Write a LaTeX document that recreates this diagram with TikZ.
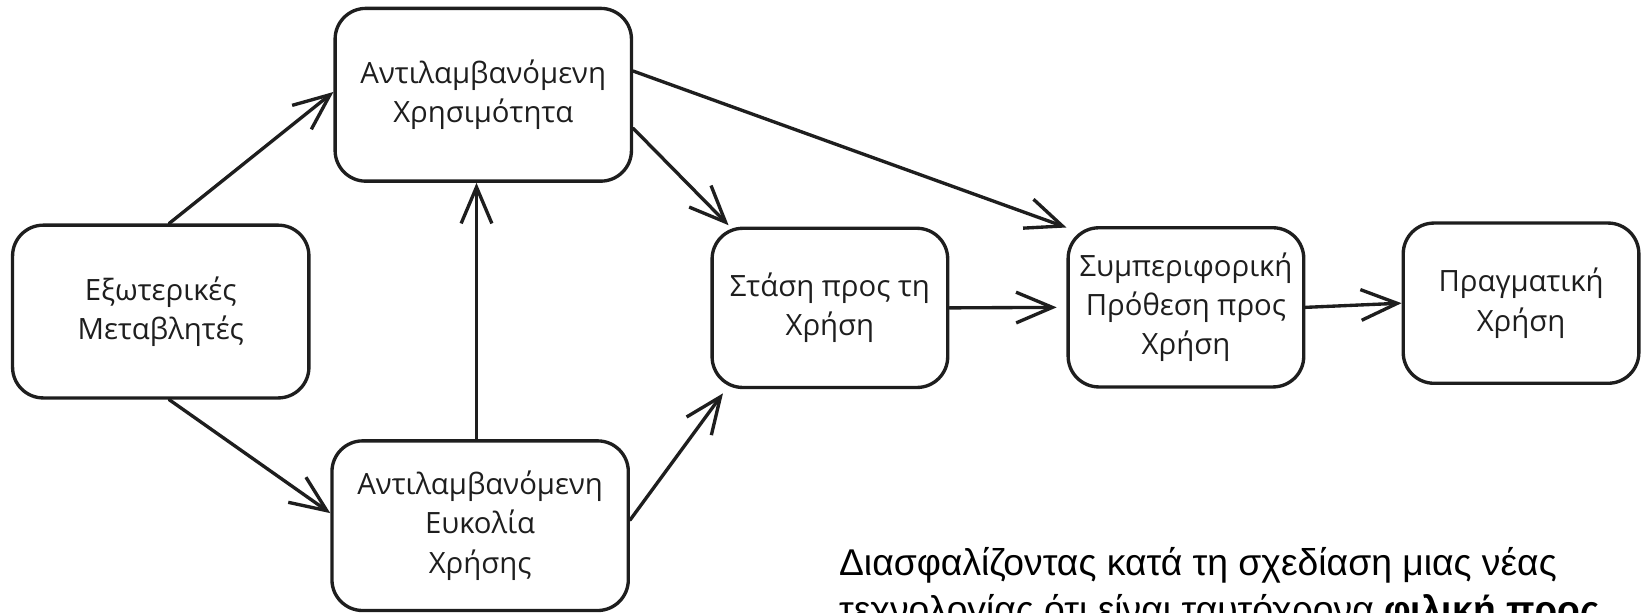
\documentclass[tikz,border=0pt]{standalone}
\usepackage{fontspec}
\setmainfont{Liberation Sans}
\newfontfamily\handfont{Open Sans}
\usetikzlibrary{arrows.meta}
\definecolor{ink}{HTML}{1E1E1E}
\begin{document}
\begin{tikzpicture}[x=0.75pt,y=-0.75pt,
  box/.style={draw=ink, line width=2.4pt, rounded corners=22pt, align=center,
    font=\handfont\fontsize{21}{28}\selectfont, text=ink, inner sep=0pt},
  arr/.style={draw=ink, line width=2.4pt, line cap=round,
    -{Straight Barb[length=26pt,width=22pt,line width=2.4pt]}},
  note/.style={anchor=base west, inner sep=0pt, text=black,
    font=\fontsize{26.7}{33}\selectfont}
]
\useasboundingbox (0,0) rectangle (1568,585.37);
\clip (0,0) rectangle (1568,585.37);

\node[box, minimum width=212.25pt, minimum height=123.75pt] (ext) at (153.5,297.5) {Εξωτερικές\\Μεταβλητές};
\node[box, minimum width=212.25pt, minimum height=123.75pt] (pu) at (461.5,90.5) {Αντιλαμβανόμενη\\Χρησιμότητα};
\node[box, minimum width=212.25pt, minimum height=121.5pt] (peu) at (458.5,502) {Αντιλαμβανόμενη\\Ευκολία\\Χρήσης};
\node[box, minimum width=168.75pt, minimum height=114pt] (att) at (792.5,294) {Στάση προς τη\\Χρήση};
\node[box, minimum width=168.75pt, minimum height=114pt] (bi) at (1132.5,293.5) {Συμπεριφορική\\Πρόθεση προς\\Χρήση};
\node[box, minimum width=168.75pt, minimum height=114.75pt] (act) at (1452.5,289.5) {Πραγματική\\Χρήση};

\draw[arr] ([xshift=6pt]ext.north) -- ([yshift=2pt]pu.west);
\draw[arr] ([xshift=6pt]ext.south) -- ([yshift=9pt]peu.west);
\draw[arr] ([xshift=-2.6pt]peu.north) -- ([xshift=-2.6pt]peu.north |- pu.south);
\draw[arr] ([yshift=-24pt]pu.east) -- ([xshift=13pt,yshift=1pt]att.north west);
\draw[arr] ([yshift=4pt]peu.east) -- ([xshift=9pt,yshift=-3pt]att.south west);
\draw[arr] ([yshift=17pt]pu.east) -- ([yshift=-1pt]bi.north west);
\draw[arr] (att.east) -- ([xshift=-7pt]bi.west);
\draw[arr] (bi.east) -- (act.west);

\node[note] (t1) at (801,550) {Διασφαλίζοντας κατά τη σχεδίαση μιας νέας};
\node[note] (t2) at (801,594.5) {τεχνολογίας ότι είναι ταυτόχρονα \textbf{φιλική προς}};
\end{tikzpicture}
\end{document}
